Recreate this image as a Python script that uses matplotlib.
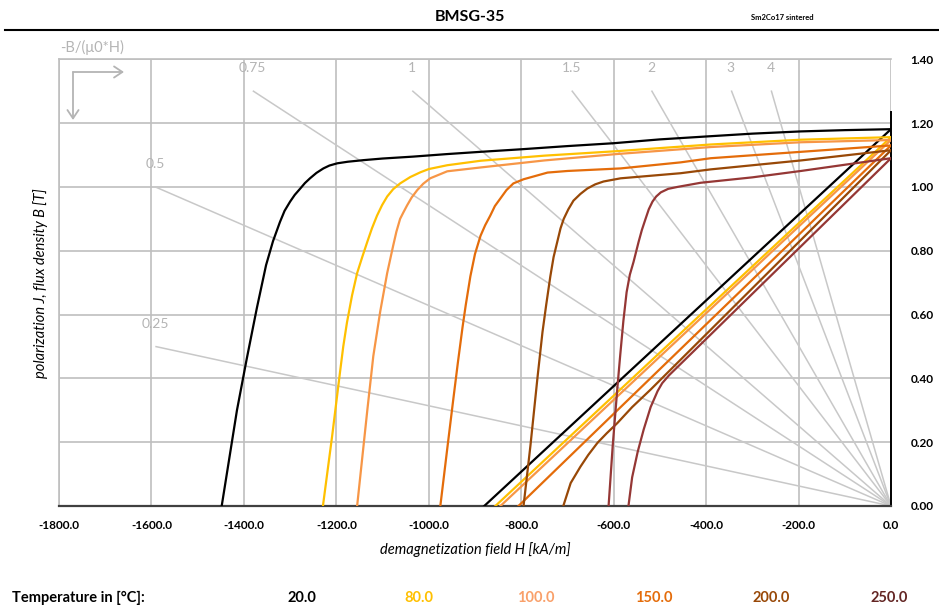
import numpy as np
import matplotlib
matplotlib.use("Agg")
import matplotlib.pyplot as plt

plt.rcParams['font.family'] = ['Lato', 'DejaVu Sans']

# ---------------- data ----------------
temperatures = ["20.0", "80.0", "100.0", "150.0", "200.0", "250.0"]
colors = ["#000000", "#FFC000", "#F79646", "#E46C0A", "#984807", "#953735"]
legend_colors = ["#000000", "#FFC000", "#F9A06A", "#E46C0A", "#984807", "#632523"]

# J (polarization) curves, H in kA/m, J in T
J_H_20 = [0, -100, -195, -300, -390, -500, -600, -700, -800, -888, -960, -1034, -1100, -1141,
          -1175, -1198, -1215, -1228, -1243, -1257, -1268, -1278, -1290, -1300, -1312, -1322,
          -1337, -1352, -1372, -1394, -1415, -1448]
J_20 = [1.181, 1.178, 1.174, 1.167, 1.159, 1.149, 1.137, 1.128, 1.118, 1.11, 1.103, 1.095, 1.089, 1.084,
        1.079, 1.074, 1.067, 1.058, 1.044, 1.027, 1.012, 0.995, 0.975, 0.954, 0.925, 0.89,
        0.83, 0.755, 0.62, 0.46, 0.30, 0.0]

J_H_80 = [0, -195, -390, -594, -750, -888, -960, -1000, -1018, -1040, -1062, -1077, -1090, -1101,
          -1112, -1123, -1133, -1144, -1155, -1166, -1177, -1185, -1192, -1209, -1229]
J_80 = [1.156, 1.148, 1.133, 1.112, 1.098, 1.082, 1.068, 1.056, 1.046, 1.031, 1.011, 0.993, 0.97, 0.943,
        0.91, 0.87, 0.828, 0.78, 0.73, 0.66, 0.575, 0.50, 0.42, 0.22, 0.0]

J_H_100 = [0, -195, -390, -594, -750, -888, -960, -997, -1012, -1025, -1037, -1047, -1055, -1062,
           -1070, -1077, -1090, -1105, -1120, -1133, -1155]
J_100 = [1.147, 1.14, 1.125, 1.103, 1.083, 1.061, 1.049, 1.027, 1.01, 0.99, 0.967, 0.942, 0.92, 0.90,
         0.86, 0.816, 0.73, 0.61, 0.47, 0.30, 0.0]

J_H_150 = [0, -195, -390, -455, -585, -700, -743, -795, -817, -832, -845, -857, -867, -878, -888,
           -900, -910, -920, -927, -937, -947, -960, -975]
J_150 = [1.13, 1.11, 1.09, 1.077, 1.058, 1.05, 1.045, 1.024, 1.011, 0.99, 0.964, 0.94, 0.91, 0.88, 0.847,
         0.79, 0.72, 0.63, 0.56, 0.45, 0.334, 0.18, 0.0]

J_H_200 = [0, -195, -390, -455, -585, -622, -640, -657, -672, -687, -698, -708, -715, -722, -730,
           -737, -746, -754, -765, -780, -795]
J_200 = [1.115, 1.083, 1.055, 1.043, 1.027, 1.017, 1.008, 0.995, 0.978, 0.957, 0.93, 0.90, 0.87, 0.828, 0.78,
         0.72, 0.63, 0.545, 0.40, 0.19, 0.0]

J_H_250 = [0, -195, -300, -412, -462, -482, -498, -508, -516, -524, -531, -539, -546, -557, -565,
           -572, -579, -586, -592, -602, -611]
J_250 = [1.09, 1.05, 1.03, 1.013, 1.0, 0.994, 0.983, 0.97, 0.954, 0.93, 0.90, 0.865, 0.828, 0.765, 0.725,
         0.67, 0.58, 0.47, 0.37, 0.19, 0.0]

# B (flux density) curves
B_H_20 = [0, -880]
B_20 = [1.181, 0.0]
B_H_80 = [0, -856]
B_80 = [1.156, 0.0]
B_H_100 = [0, -845]
B_100 = [1.147, 0.0]
B_H_150 = [0, -806]
B_150 = [1.13, 0.0]
B_H_200 = [0, -520, -560, -592, -615, -635, -655, -672, -693, -709]
B_200 = [1.115, 0.365, 0.31, 0.26, 0.228, 0.198, 0.16, 0.123, 0.072, 0.0]
B_H_250 = [0, -480, -495, -505, -520, -535, -548, -560, -568]
B_250 = [1.09, 0.41, 0.385, 0.36, 0.31, 0.24, 0.17, 0.09, 0.0]

J_curves = [(J_H_20, J_20), (J_H_80, J_80), (J_H_100, J_100),
            (J_H_150, J_150), (J_H_200, J_200), (J_H_250, J_250)]
B_curves = [(B_H_20, B_20), (B_H_80, B_80), (B_H_100, B_100),
            (B_H_150, B_150), (B_H_200, B_200), (B_H_250, B_250)]

# load lines -B/(mu0*H)
permeance = [0.25, 0.5, 0.75, 1, 1.5, 2, 3, 4]
permeance_labels = ["0.25", "0.5", "0.75", "1", "1.5", "2", "3", "4"]
MU0 = 4 * np.pi * 1e-4   # T per kA/m
LOAD_H_MIN = -1590
LOAD_B_MAX = 1.30

x_ticks = [-1800, -1600, -1400, -1200, -1000, -800, -600, -400, -200, 0]
y_ticks = [0.0, 0.2, 0.4, 0.6, 0.8, 1.0, 1.2, 1.4]

# ---------------- figure ----------------
W, H = 939, 609
fig = plt.figure(figsize=(W / 100, H / 100), dpi=100)

def fx(x):
    return x / W

def fy(y):
    return 1 - y / H

ax = fig.add_axes([fx(59), fy(506), (891 - 59) / W, (506 - 59.3) / H])
ax.set_xlim(-1800, 0)
ax.set_ylim(0, 1.4)
ax.set_xticks(x_ticks)
ax.set_yticks(y_ticks)
ax.set_xticklabels([f"{v:.1f}" for v in x_ticks], fontsize=8.5, fontweight='bold')
ax.set_yticklabels([f"{v:.2f}" for v in y_ticks], fontsize=8.5, fontweight='bold')
ax.yaxis.tick_right()
ax.tick_params(axis='both', length=0)
ax.tick_params(axis='x', pad=10)
ax.tick_params(axis='y', pad=14)
ax.grid(True, color='#BFBFBF', linewidth=1.2, zorder=0)
ax.set_axisbelow(True)
for s in ['left', 'top']:
    ax.spines[s].set_color('#BFBFBF')
    ax.spines[s].set_linewidth(1.2)
ax.spines['bottom'].set_color('#404040')
ax.spines['bottom'].set_linewidth(1.6)
ax.spines['right'].set_color('#000000')
ax.spines['right'].set_linewidth(1.4)
ax.spines['right'].set_bounds(0, 1.235)

# load lines
for p, lab in zip(permeance, permeance_labels):
    h0 = max(LOAD_H_MIN, -LOAD_B_MAX / (p * MU0))
    b0 = -p * MU0 * h0
    ax.plot([h0, 0], [b0, 0], color='#C8C8C8', linewidth=1.1, zorder=1)
    ax.annotate(lab, (h0, b0), xytext=(-1, 23), textcoords='offset pixels',
                ha='center', va='center', fontsize=10, color='#B4B4B4',
                annotation_clip=False)

# curves
for (hj, jj), (hb, bb), c in zip(J_curves, B_curves, colors):
    ax.plot(hj, jj, color=c, linewidth=1.6, zorder=3, solid_joinstyle='round')
    ax.plot(hb, bb, color=c, linewidth=1.6, zorder=3, solid_joinstyle='round')

ax.set_xlabel("demagnetization field H [kA/m]", fontsize=10.5, style='italic', labelpad=8)
ax.set_ylabel("polarization J, flux density B [T]", fontsize=10.5, style='italic', labelpad=8)
ax.yaxis.set_label_position('left')

# title area
fig.text(fx(470), fy(17), "BMSG-35", ha='center', va='center', fontsize=11.5, fontweight='bold')
fig.text(fx(782), fy(17), "Sm2Co17 sintered", ha='center', va='center', fontsize=5.5, fontweight='bold')
fig.add_artist(plt.Line2D([fx(5), fx(939)], [fy(30), fy(30)], color='black', linewidth=1.5))

# -B/(mu0*H) indicator with arrows
fig.text(fx(60), fy(47), "-B/(μ0*H)", ha='left', va='center', fontsize=10.5, color='#B4B4B4')
fig.patches.append(matplotlib.patches.FancyArrowPatch(
    (fx(73), fy(72)), (fx(124), fy(72)), transform=fig.transFigure,
    arrowstyle='->,head_length=6,head_width=4', color='#B4B4B4', linewidth=1.3,
    shrinkA=0, shrinkB=0))
fig.patches.append(matplotlib.patches.FancyArrowPatch(
    (fx(73), fy(72)), (fx(73), fy(120)), transform=fig.transFigure,
    arrowstyle='->,head_length=6,head_width=4', color='#B4B4B4', linewidth=1.3,
    shrinkA=0, shrinkB=0))

# temperature legend row
fig.text(fx(12), fy(598), "Temperature in [°C]:", ha='left', va='center', fontsize=10.5, fontweight='bold')
leg_x = [302, 419, 536, 654, 771, 889]
for xx, t, c in zip(leg_x, temperatures, legend_colors):
    fig.text(fx(xx), fy(598), t, ha='center', va='center', fontsize=10.5, fontweight='bold', color=c)

fig.savefig("out.png", dpi=100)
